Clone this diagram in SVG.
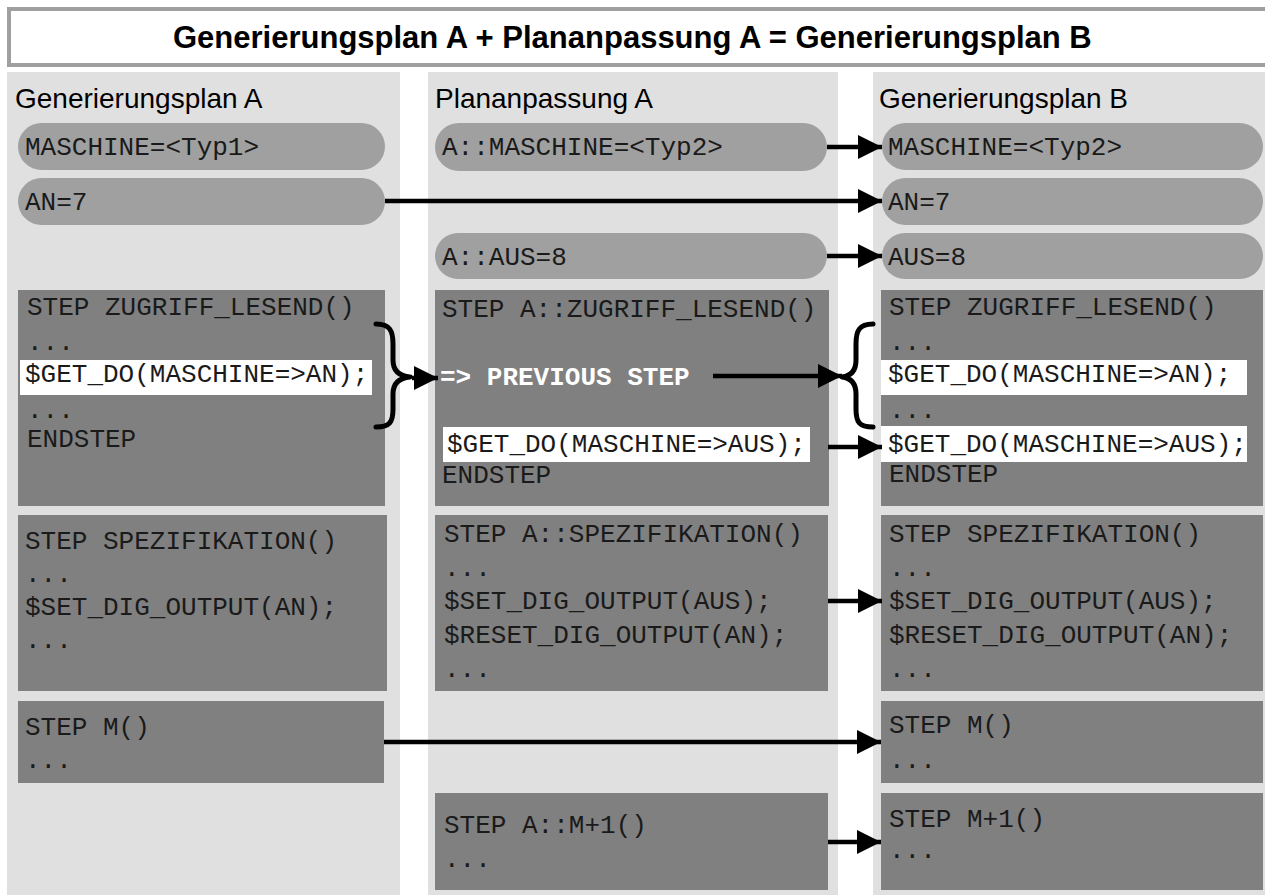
<svg xmlns="http://www.w3.org/2000/svg" width="1265" height="895" viewBox="0 0 1265 895">
<style>
.col{fill:#e0e0e0}
.pill{fill:#a0a0a0}
.box{fill:#808080}
.hl{fill:#ffffff}
.mono{font-family:"Liberation Mono","Courier New",monospace;font-size:26px;fill:#1a1a1a}
.hdr{font-family:"Liberation Sans",Arial,sans-serif;font-size:28px;fill:#000}
.title{font-family:"Liberation Sans",Arial,sans-serif;font-size:31px;font-weight:bold;fill:#000}
.prev{font-family:"Liberation Mono","Courier New",monospace;font-size:26px;font-weight:bold;fill:#fff}
.arr{stroke:#000;stroke-width:4.5;fill:none}
.brace{stroke:#000;stroke-width:5;fill:none;stroke-linejoin:round;stroke-linecap:round}
</style>
<defs>
<marker id="ah" viewBox="0 0 24 24" refX="24" refY="12" markerWidth="24" markerHeight="24" markerUnits="userSpaceOnUse" orient="auto">
<path d="M0,0 L24,12 L0,24 Z" fill="#000"/>
</marker>
</defs>
<rect width="1265" height="895" fill="#fff"/>
<g id="title">
<rect x="9" y="9" width="1262" height="56" fill="#fff" stroke="#a0a0a0" stroke-width="4"/>
<text class="title" x="173" y="48">Generierungsplan A + Plananpassung A = Generierungsplan B</text>
</g>
<g id="col-a">
<rect class="col" x="7" y="72" width="393" height="823"/>
<text class="hdr" x="15" y="108">Generierungsplan A</text>
</g>
<g id="col-pa">
<rect class="col" x="428" y="72" width="410" height="823"/>
<text class="hdr" x="435" y="108">Plananpassung A</text>
</g>
<g id="col-b">
<rect class="col" x="873" y="72" width="392" height="823"/>
<text class="hdr" x="879" y="108">Generierungsplan B</text>
</g>
<g id="a-maschine">
<rect class="pill" x="18" y="123" width="367" height="47" rx="23.5"/>
<text class="mono" x="25" y="155">MASCHINE=&lt;Typ1&gt;</text>
</g>
<g id="a-an">
<rect class="pill" x="18" y="178" width="367" height="47" rx="23.5"/>
<text class="mono" x="25" y="210">AN=7</text>
</g>
<g id="pa-maschine">
<rect class="pill" x="435" y="123" width="392" height="48" rx="24"/>
<text class="mono" x="442" y="155">A::MASCHINE=&lt;Typ2&gt;</text>
</g>
<g id="pa-aus">
<rect class="pill" x="435" y="233" width="392" height="46" rx="23"/>
<text class="mono" x="442" y="265">A::AUS=8</text>
</g>
<g id="b-maschine">
<rect class="pill" x="882" y="123" width="381" height="47" rx="23.5"/>
<text class="mono" x="888" y="155">MASCHINE=&lt;Typ2&gt;</text>
</g>
<g id="b-an">
<rect class="pill" x="882" y="178" width="381" height="47" rx="23.5"/>
<text class="mono" x="888" y="210">AN=7</text>
</g>
<g id="b-aus">
<rect class="pill" x="882" y="233" width="381" height="46" rx="23"/>
<text class="mono" x="888" y="265">AUS=8</text>
</g>
<g id="a-zugriff">
<rect class="box" x="18" y="290" width="367" height="216"/>
<text class="mono" x="27" y="315">STEP ZUGRIFF_LESEND()</text>
<text class="mono" x="27" y="350">...</text>
<rect class="hl" x="20" y="360" width="352" height="35"/>
<text class="mono" x="25" y="382">$GET_DO(MASCHINE=&gt;AN);</text>
<text class="mono" x="27" y="418">...</text>
<text class="mono" x="27" y="447">ENDSTEP</text>
</g>
<g id="pa-zugriff">
<rect class="box" x="435" y="290" width="394" height="216"/>
<text class="mono" x="442" y="317">STEP A::ZUGRIFF_LESEND()</text>
<text class="prev" x="440" y="385">=&gt; PREVIOUS STEP</text>
<rect class="hl" x="443" y="427" width="367" height="35"/>
<text class="mono" x="447" y="452">$GET_DO(MASCHINE=&gt;AUS);</text>
<text class="mono" x="442" y="483">ENDSTEP</text>
</g>
<g id="b-zugriff">
<rect class="box" x="881" y="290" width="382" height="216"/>
<text class="mono" x="889" y="315">STEP ZUGRIFF_LESEND()</text>
<text class="mono" x="889" y="350">...</text>
<rect class="hl" x="881" y="360" width="366" height="35"/>
<text class="mono" x="888" y="382">$GET_DO(MASCHINE=&gt;AN);</text>
<text class="mono" x="889" y="418">...</text>
<rect class="hl" x="881" y="426" width="366" height="36"/>
<text class="mono" x="888" y="452">$GET_DO(MASCHINE=&gt;AUS);</text>
<text class="mono" x="889" y="482">ENDSTEP</text>
</g>
<g id="a-spez">
<rect class="box" x="18" y="515" width="369" height="176"/>
<text class="mono" x="25" y="549">STEP SPEZIFIKATION()</text>
<text class="mono" x="25" y="582">...</text>
<text class="mono" x="25" y="615">$SET_DIG_OUTPUT(AN);</text>
<text class="mono" x="25" y="648">...</text>
</g>
<g id="pa-spez">
<rect class="box" x="435" y="515" width="393" height="176"/>
<text class="mono" x="444" y="542">STEP A::SPEZIFIKATION()</text>
<text class="mono" x="444" y="576">...</text>
<text class="mono" x="444" y="609">$SET_DIG_OUTPUT(AUS);</text>
<text class="mono" x="444" y="643">$RESET_DIG_OUTPUT(AN);</text>
<text class="mono" x="444" y="677">...</text>
</g>
<g id="b-spez">
<rect class="box" x="881" y="515" width="382" height="176"/>
<text class="mono" x="889" y="542">STEP SPEZIFIKATION()</text>
<text class="mono" x="889" y="576">...</text>
<text class="mono" x="889" y="609">$SET_DIG_OUTPUT(AUS);</text>
<text class="mono" x="889" y="643">$RESET_DIG_OUTPUT(AN);</text>
<text class="mono" x="889" y="677">...</text>
</g>
<g id="a-m">
<rect class="box" x="18" y="701" width="366" height="82"/>
<text class="mono" x="25" y="735">STEP M()</text>
<text class="mono" x="25" y="768">...</text>
</g>
<g id="pa-m1">
<rect class="box" x="435" y="793" width="393" height="97"/>
<text class="mono" x="444" y="833">STEP A::M+1()</text>
<text class="mono" x="444" y="867">...</text>
</g>
<g id="b-m">
<rect class="box" x="881" y="701" width="382" height="82"/>
<text class="mono" x="889" y="733">STEP M()</text>
<text class="mono" x="889" y="768">...</text>
</g>
<g id="b-m1">
<rect class="box" x="881" y="793" width="382" height="97"/>
<text class="mono" x="889" y="827">STEP M+1()</text>
<text class="mono" x="889" y="858">...</text>
</g>
<g id="connectors">
<path class="brace" d="M376,324 C390,324 393,331 393,344 L393,360 C393,371 399,376 410,377 C399,378 393,383 393,394 L393,409 C393,422 390,427 376,427"/>
<path class="brace" d="M873,324 C859,324 856,331 856,344 L856,360 C856,371 851,376 842,377 C851,378 856,383 856,394 L856,409 C856,422 859,427 873,427"/>
<line class="arr" x1="827" y1="147" x2="882" y2="147" marker-end="url(#ah)"/>
<line class="arr" x1="385" y1="201" x2="882" y2="201" marker-end="url(#ah)"/>
<line class="arr" x1="827" y1="256" x2="882" y2="256" marker-end="url(#ah)"/>
<line class="arr" x1="412" y1="378" x2="438" y2="378" marker-end="url(#ah)"/>
<line class="arr" x1="713" y1="376" x2="842" y2="376" marker-end="url(#ah)"/>
<line class="arr" x1="828" y1="447" x2="882" y2="447" marker-end="url(#ah)"/>
<line class="arr" x1="828" y1="601" x2="882" y2="601" marker-end="url(#ah)"/>
<line class="arr" x1="384" y1="742" x2="881" y2="742" marker-end="url(#ah)"/>
<line class="arr" x1="828" y1="842" x2="881" y2="842" marker-end="url(#ah)"/>
</g>
</svg>
